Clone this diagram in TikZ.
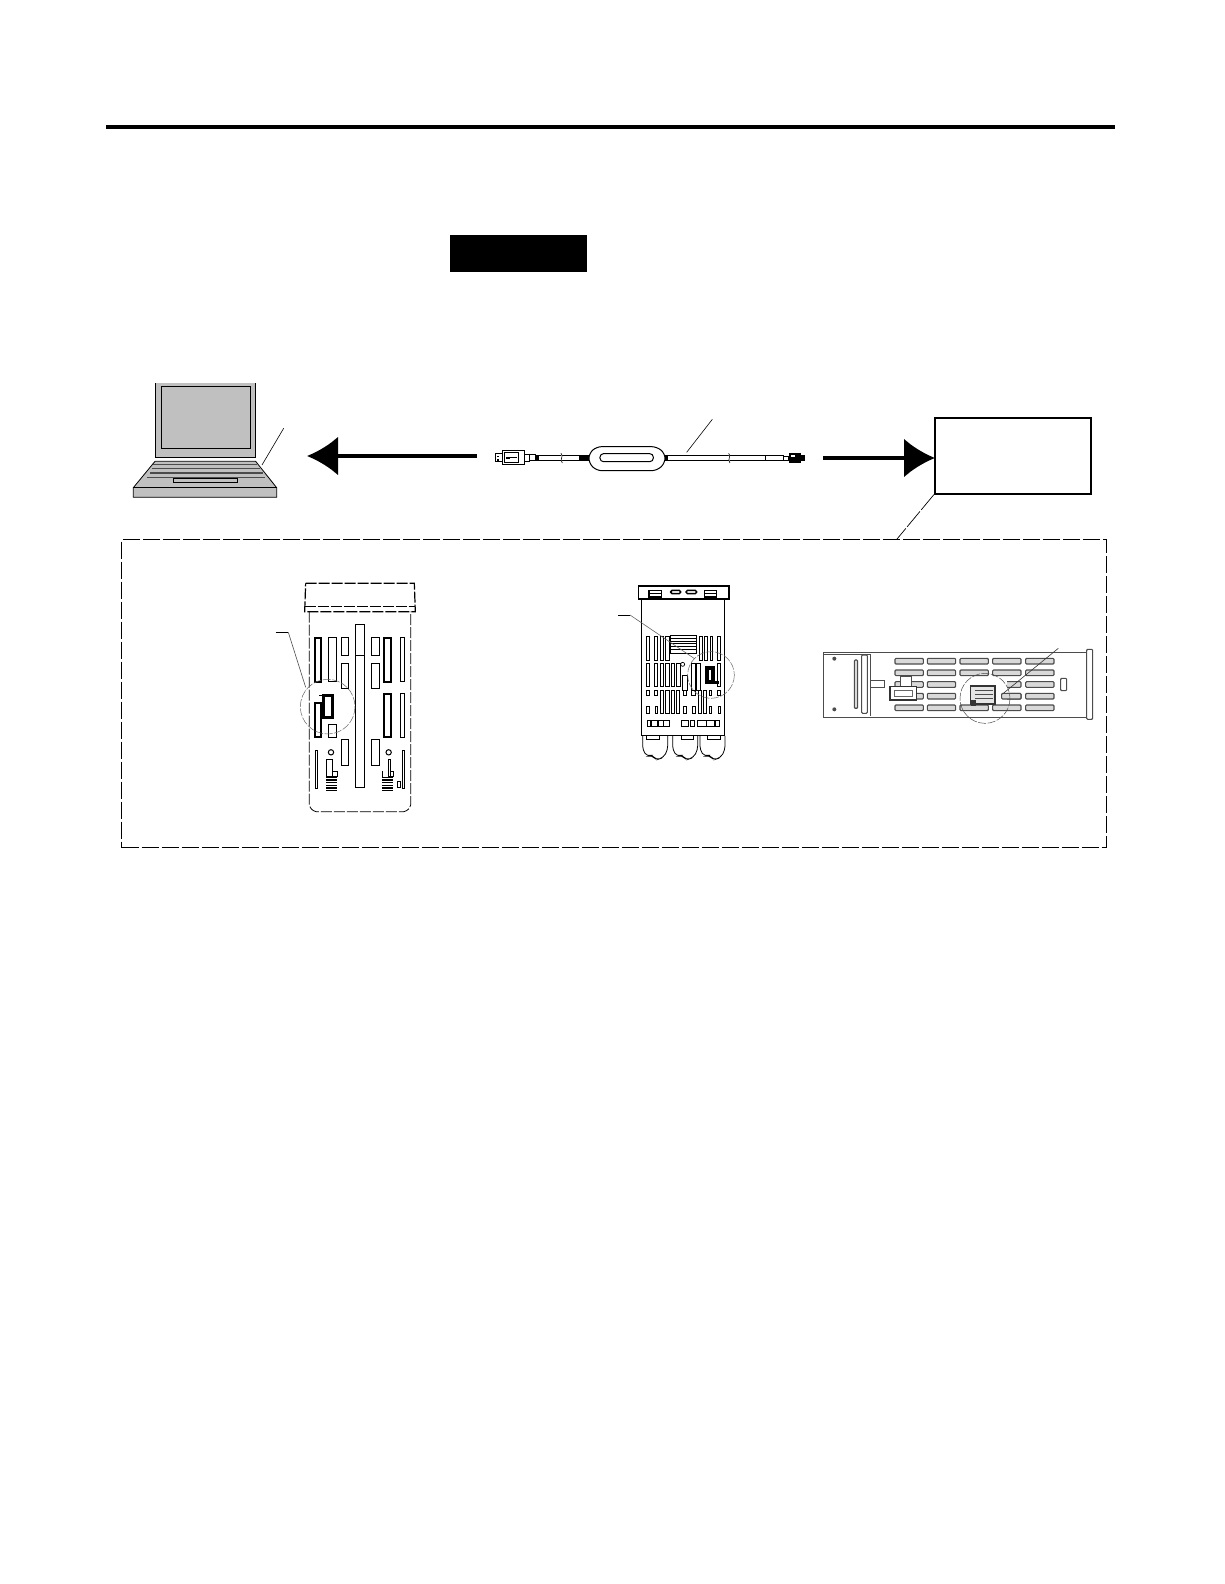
\documentclass[tikz,border=0pt]{standalone}
\usepackage{amsmath}
\usetikzlibrary{arrows.meta}
\definecolor{lapgray}{HTML}{C0C0C0}
\begin{document}
\begin{tikzpicture}[x=1pt,y=-1pt,line join=miter,
  slot/.style={draw,line width=.7pt,fill=white},
  thk/.style={draw,line width=2pt,fill=white},
  soft/.style={draw=black!70,line width=1.1pt,rounded corners=1pt,fill=black!15},
  lead/.style={draw,line width=.6pt},
  lap/.style={draw,line width=.8pt,fill=lapgray},
  dsh/.style={draw,line width=.8pt,dash pattern=on 11pt off 2pt},
  ring/.style={draw=black!60,line width=.5pt,dash pattern=on 8pt off 1.5pt},
  bigarrow/.style={line width=4pt,-{Latex[length=31pt,width=39pt]}},
  nd/.style={draw,line width=1.5pt,fill=white,inner sep=0pt,anchor=north west},
  zm/.style={x=.3333pt,y=-.3333pt}]
  \useasboundingbox (0,0) rectangle (1224,1584);
  \draw[line width=4pt] (106,127) -- (1115,127);
  \node[fill=black,inner sep=0pt,minimum width=137pt,minimum height=37pt,anchor=north west] (badge) at (450,235) {};
  % main blocks
  \node[nd,minimum width=156pt,minimum height=76pt] (ctrl) at (934,417) {};
  \node[nd,line width=1.4pt,fill=none,minimum width=985pt,minimum height=308pt,dash pattern=on 17pt off 3pt] (frame) at (121,539) {};
  \draw[line width=.7pt,dash pattern=on 20pt off 2pt] (ctrl.south west) -- (897,539);
  \coordinate (lft) at (477,456);
  \coordinate (lftend) at (307,456);
  \coordinate (rgt) at (823,458);
  \coordinate (rgtend) at (935,458);
  \draw[bigarrow] (lft) -- (lftend);
  \draw[bigarrow] (rgt) -- (rgtend);
  % laptop
  \begin{scope}[shift={(120,370)},zm]
    \draw[lap] (106,40) -- (106,263) -- (407,263) -- (407,40);
    \draw[lap] (124,48) rectangle (392,236);
    \draw[lap] (105,274) -- (407,274) -- (470,353) -- (470,382) -- (40,382) -- (40,353) -- cycle;
    \draw[line width=.7pt] (40,353) -- (470,353);
    \draw[line width=1pt,black!70] (100,283) -- (412,283);
    \draw[line width=1pt,black!70] (95,296) -- (420,296);
    \draw[line width=2pt,black!70] (90,309) -- (428,309);
    \draw[line width=1pt,black!70] (80,322) -- (436,322);
    \draw[lap,line width=.6pt] (160,326) rectangle (353,337);
    \draw[lead] (491,175) -- (426,285);
  \end{scope}
  % cable
  \begin{scope}[shift={(480,400)},zm]
    \draw[slot] (160,167) rectangle (327,181);
    \draw[slot] (555,167) rectangle (910,181);
    \draw[line width=.6pt] (855,167) -- (855,181);
    \foreach \xa in {245,748} \draw[slot,line width=.6pt] (\xa-2,160) .. controls (\xa+8,168) and (\xa-8,178) .. (\xa+2,189);
    \fill (298,165) rectangle (327,184);
    \fill (165,166) rectangle (177,183);
    \fill (555,166) rectangle (565,184);
    \draw[slot,line width=1pt] (149,165) rectangle (165,183);
    \draw[slot,line width=1pt] (45,162) rectangle (68,186);
    \fill (50,167) rectangle (56,172);
    \fill (50,177) rectangle (56,182);
    \draw[slot,line width=1pt] (68,153) rectangle (134,193);
    \draw[slot] (73,158) rectangle (116,187);
    \fill (78,170) rectangle (90,178);
    \draw[line width=1pt] (90,174) -- (110,174);
    \draw[slot,line width=1pt] (134,163) rectangle (149,186);
    \draw[slot,line width=1pt,rounded corners=5pt] (327,160) -- (350,140) -- (530,140) -- (555,160) -- (555,190) -- (530,212) -- (350,212) -- (327,190) -- cycle;
    \draw[slot,line width=1pt,rounded corners=3.5pt] (360,161) rectangle (520,185);
    \draw[slot] (910,168) rectangle (926,180);
    \fill (926,160) rectangle (962,188);
    \fill (962,165) rectangle (975,183);
    \fill[white] (932,166) rectangle (945,172);
    \draw[lead] (697,58) -- (620,157);
  \end{scope}
  % device with lid
  \begin{scope}[shift={(260,570)},zm]
    \draw[dsh,line width=1.2pt] (137,40) -- (463,40) -- (466,125) -- (134,125) -- cycle;
    \draw[dsh,line width=1.2pt] (134,110) -- (466,110);
    \draw[dsh] (148,125) -- (148,705) to[bend right=30] (168,725) -- (432,725) to[bend right=30] (452,705) -- (452,125);
    \foreach \xa/\xb/\ya/\yb in {205/230/203/335,245/266/203/256,245/266/280/355,286/314/163/653,
      334/358/203/256,334/358/280/355,421/434/203/335,421/434/371/502,205/230/463/502,
      245/266/508/586,334/358/508/586,166/173/540/655,427/434/540/655,411/421/633/653}
      \draw[slot] (\xa,\ya) rectangle (\xb,\yb);
    \draw[slot] (286,255) -- (314,255);
    \foreach \xa/\xb/\ya/\yb in {165/182/203/335,372/394/203/335,372/394/371/502,165/182/400/502}
      \draw[thk] (\xa,\ya) rectangle (\xb,\yb);
    \draw[thk,line width=3pt] (192,378) rectangle (219,443);
    \fill[white] (198,390) rectangle (213,430);
    \draw[slot] (178,376) -- (192,376);
    \foreach \xa in {213,386} \draw[slot,line width=1pt] (\xa,547) circle (8);
    \draw[slot] (199,568) rectangle (216,620);
    \draw[slot] (216,604) rectangle (232,620);
    \draw[slot] (386,568) rectangle (392,620);
    \draw[slot] (392,604) rectangle (400,620);
    \foreach \ya in {622,630,638,646,654,662} {
      \draw[line width=1.2pt] (199,\ya) -- (232,\ya);
      \draw[line width=1.2pt] (367,\ya) -- (400,\ya);
    }
    \draw[slot,fill=none] (367,604) -- (367,620);
    \draw[ring] (203,410) circle (82);
    \draw[line width=.7pt] (47,187) -- (85,187);
    \draw[lead,draw=black!70] (85,187) -- (137,352);
  \end{scope}
  % device with terminals
  \begin{scope}[shift={(600,575)},zm]
    \draw[slot,line width=1pt] (125,72) -- (125,483) -- (375,483) -- (375,72);
    \draw[slot,line width=1.2pt] (115,33) -- (387,33) -- (387,72) -- (115,72) -- cycle;
    \foreach \xa/\xb in {147/185,313/350} {
      \draw[slot,line width=1.2pt] (\xa,47) rectangle (\xb,66);
      \draw[line width=1pt] (\xa,56) -- (\xb,56);
    }
    \foreach \xa/\xb in {212/242,258/290} \draw[line width=1.5pt,fill=white,rounded corners=1.5pt] (\xa,46) rectangle (\xb,56);
    \foreach \xa/\xb/\ya/\yb in {140/147/185/255,163/173/185/255,180/190/185/255,197/207/185/255,
      298/308/185/255,313/323/185/255,332/337/185/255,352/360/185/255,
      140/147/265/335,163/173/265/335,180/190/265/335,197/207/265/335,214/224/265/335,230/240/265/335,
      248/262/300/345,275/285/265/345,290/300/265/345,352/360/265/335,
      140/147/345/362,163/173/345/362,180/190/345/415,197/207/345/415,214/224/345/415,230/238/345/415,
      250/258/345/362,275/285/345/362,295/305/345/415,310/320/345/415,327/335/345/362,352/360/345/362,
      140/147/395/415,165/173/395/415,250/258/395/415,277/285/395/415,327/335/395/415,355/362/395/415,
      143/152/435/455,155/173/435/455,175/190/435/455,190/207/435/455,245/265/435/455,270/282/435/455,
      292/318/435/455,318/342/435/455,345/358/435/455}
      \draw[slot] (\xa,\ya) rectangle (\xb,\yb);
    \draw[slot] (210,182) rectangle (288,235);
    \foreach \ya in {190,198,206,214,222} \draw[line width=.7pt] (210,\ya) -- (288,\ya);
    \fill (316,272) rectangle (345,328);
    \fill[white] (327,285) rectangle (333,315);
    \fill (345,318) rectangle (356,328);
    \draw[slot,fill=none] (248,268) circle (6);
    \foreach \xa in {128,218,300}
      \draw[line width=.8pt,rounded corners=4pt] (\xa,483) -- (\xa,525) -- (\xa+14,545) -- (\xa+28,540) -- (\xa+40,555) -- (\xa+62,548) -- (\xa+75,525) -- (\xa+75,483);
    \foreach \xa in {140,243,322} \draw[line width=.7pt] (\xa,483) -- (\xa,492) -- (\xa+38,492) -- (\xa+38,483);
    \draw[ring] (333,300) circle (70);
    \draw[line width=.7pt] (55,120) -- (90,120);
    \draw[lead,draw=black!60] (90,120) -- (285,252);
  \end{scope}
  % side device
  \begin{scope}[shift={(810,630)},zm]
    \draw[slot,line width=1.2pt,draw=black!70] (40,68) rectangle (848,262);
    \draw[line width=1pt,draw=black!70] (40,72) -- (180,72) -- (180,258);
    \draw[soft,fill=white] (830,58) rectangle (848,268);
    \draw[soft] (133,90) rectangle (143,235);
    \draw[soft,fill=white] (155,75) rectangle (172,250);
    \foreach \xa/\ya in {73/86,73/238} \fill[black!70] (\xa,\ya) circle (6);
    \foreach \ya in {85,120,155,190,225}
      \foreach \xa in {255,352,450,548,647}
        \draw[soft] (\xa,\ya) rectangle ++(85,17);
    \draw[soft,fill=white] (752,145) rectangle (770,182);
    \draw[draw=black!70,line width=1pt] (180,152) -- (222,152) -- (222,172) -- (180,172);
    \draw[draw=black!70,line width=1pt,fill=white] (270,140) rectangle (305,170);
    \draw[draw=black!80,line width=1.5pt,fill=white] (240,170) rectangle (320,210);
    \draw[draw=black!60,line width=.8pt] (252,180) rectangle (308,200);
    \fill[white] (445,148) rectangle (590,222);
    \draw[draw=black!80,line width=1.2pt,fill=black!10] (482,168) rectangle (555,222);
    \foreach \ya in {180,192,204} \draw[line width=.8pt,black!70] (495,\ya) -- (550,\ya);
    \fill[black!80] (482,210) rectangle (498,228);
    \draw[soft] (575,190) rectangle ++(58,17);
    \draw[ring,draw=black!70] (525,205) circle (75);
    \draw[lead,draw=black!80] (745,55) -- (580,190);
  \end{scope}
\end{tikzpicture}
\end{document}
